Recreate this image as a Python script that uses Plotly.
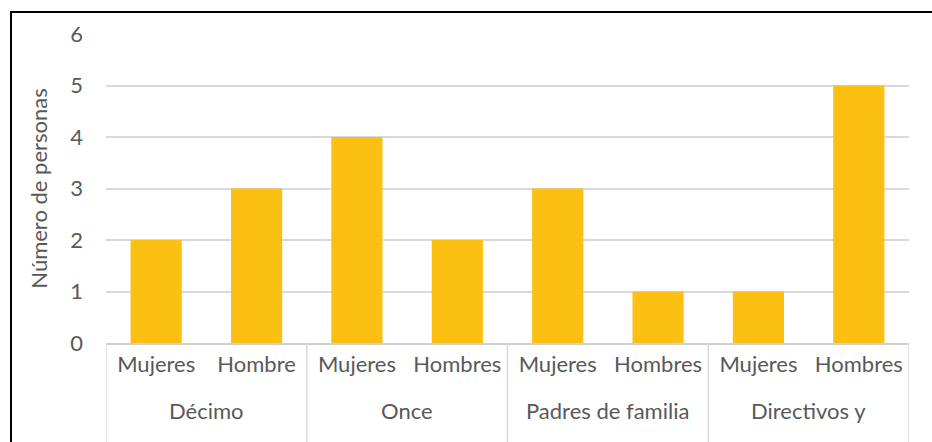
import plotly.graph_objects as go

groups = ["Décimo", "Décimo", "Once", "Once", "Padres de familia", "Padres de familia",
          "Directivos y", "Directivos y"]
subgroups = ["Mujeres", "Hombre", "Mujeres", "Hombres", "Mujeres", "Hombres", "Mujeres", "Hombres"]
values = [2, 3, 4, 2, 3, 1, 1, 5]
y_ticks = [0, 1, 2, 3, 4, 5, 6]
y_title = "Número de personas"

font_family = "Lato, Open Sans, sans-serif"
text_color = "#595959"
fs = 22

positions = list(range(len(values)))

fig = go.Figure()
fig.add_trace(go.Bar(
    x=positions, y=values,
    marker=dict(color="#FBC012", line=dict(width=0)),
    width=0.51,
))

# group spans
spans = []
for i, g in enumerate(groups):
    if not spans or spans[-1][0] != g:
        spans.append([g, i, i])
    else:
        spans[-1][2] = i

fig.update_layout(
    width=932, height=442,
    margin=dict(l=106, r=23, t=34, b=99),
    paper_bgcolor="white", plot_bgcolor="white",
    showlegend=False,
    font=dict(family=font_family, size=fs, color=text_color),
    xaxis=dict(
        range=[-0.5, len(values) - 0.5],
        tickvals=positions, ticktext=subgroups,
        showline=True, linecolor="#D0D0D0", linewidth=1.5,
        ticks="", showgrid=False, zeroline=False,
        ticklabelstandoff=1,
        tickfont=dict(size=fs, color=text_color),
    ),
    yaxis=dict(
        range=[0, 6], tickvals=y_ticks,
        showgrid=True, gridcolor="#D9D9D9", gridwidth=1.5,
        zeroline=False, showline=False, ticks="",
        ticklabelstandoff=22,
        tickfont=dict(size=fs, color=text_color),
        title=dict(text=y_title, font=dict(size=fs, color=text_color), standoff=16),
    ),
)

for g, a, b in spans:
    fig.add_annotation(x=(a + b) / 2, xref="x", y=0, yref="paper", yshift=-67,
                       text=g, showarrow=False, yanchor="middle",
                       font=dict(size=fs, color=text_color))

bounds = [spans[0][1] - 0.5] + [b + 0.5 for _, _, b in spans]
for xb in bounds:
    fig.add_shape(type="line", xref="x", yref="paper", x0=xb, x1=xb, y0=0, y1=-0.4,
                  line=dict(color="#D9D9D9", width=1.5))

fig.add_shape(type="rect", xref="paper", yref="paper",
              x0=-95/803, x1=1.05, y0=-0.5, y1=(343-12)/309,
              line=dict(color="black", width=2), fillcolor="rgba(0,0,0,0)", layer="above")

fig.write_html("out.html", config={"displayModeBar": False},
               post_script="document.body.style.margin='0';")
